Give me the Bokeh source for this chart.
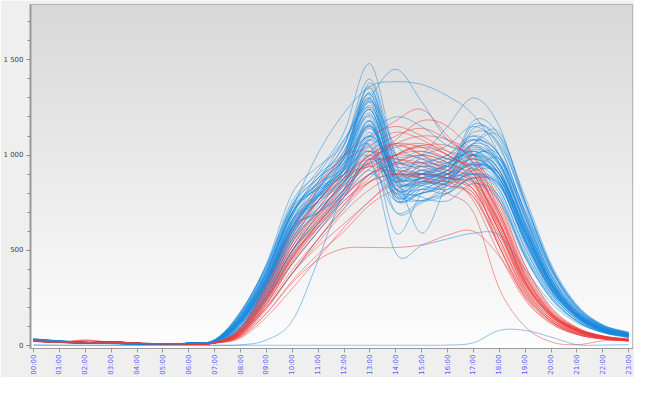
import math
import numpy as np
from bokeh.plotting import figure
from bokeh.models import Range1d, FixedTicker, SingleIntervalTicker, CustomJSTickFormatter
from bokeh.embed import file_html
from bokeh.resources import INLINE

hours = ["00:00", "01:00", "02:00", "03:00", "04:00", "05:00", "06:00", "07:00",
         "08:00", "09:00", "10:00", "11:00", "12:00", "13:00", "14:00", "15:00",
         "16:00", "17:00", "18:00", "19:00", "20:00", "21:00", "22:00", "23:00"]

# blue series (hourly values)
b01 = [32,22,16,12,10,10,12,28,150,380,700,860,980,1240,880,920,900,980,860,540,290,150,80,52]
b02 = [28,20,15,12,11,10,12,22,110,290,540,700,860,1120,820,860,850,930,800,490,270,140,75,45]
b03 = [35,25,18,14,12,11,13,30,170,420,760,900,1020,1320,900,880,920,1050,920,610,330,165,88,58]
b04 = [25,18,14,11,10,9,11,20,90,260,500,640,800,1000,780,820,800,880,760,460,250,128,70,40]
b05 = [30,21,16,13,11,10,12,25,140,350,650,790,930,1380,950,860,900,1000,900,590,320,165,88,55]
b06 = [33,24,17,13,11,10,12,27,160,400,720,820,900,1180,760,900,950,1100,1000,670,350,175,92,60]
b07 = [27,19,15,12,10,10,11,23,120,310,580,760,960,1150,830,800,880,1160,1050,690,370,185,98,64]
b08 = [31,22,16,12,11,10,12,26,135,340,620,700,820,1050,700,750,820,900,850,550,290,150,80,50]
b09 = [29,21,15,12,10,10,12,24,125,320,600,820,1020,1290,920,940,980,1080,950,630,340,168,88,55]
b10 = [34,24,18,14,12,11,13,29,175,430,800,940,1060,1350,980,960,900,950,820,510,275,140,75,45]
b11 = [26,19,14,11,10,9,11,21,100,280,520,680,820,1040,800,840,870,920,900,610,330,175,92,58]
b12 = [32,23,17,13,11,10,12,27,145,360,660,750,880,1180,850,780,760,850,780,470,255,130,70,45]
b13 = [30,22,16,12,10,10,12,25,135,350,640,810,960,1260,900,870,850,1000,980,680,370,185,98,63]
b14 = [28,20,15,12,10,10,11,23,115,300,560,740,900,1140,880,900,940,1120,1060,750,410,205,108,68]
b15 = [35,25,18,14,12,11,13,30,180,420,740,880,1000,1300,860,820,860,980,870,550,295,150,80,50]
b16 = [27,19,15,12,10,9,11,22,105,280,550,700,860,1020,820,880,900,960,880,580,315,158,84,54]
b17 = [31,22,16,13,11,10,12,26,150,370,690,850,940,1220,800,860,920,1030,950,640,345,172,90,58]
b18 = [29,21,15,12,10,10,12,24,120,320,600,720,850,1080,760,820,880,1000,1000,710,390,195,102,64]
b19 = [33,23,17,13,11,10,12,28,160,390,700,860,1050,1320,940,900,880,900,780,470,245,128,70,45]
b20 = [26,18,14,11,10,9,11,20,85,240,480,620,780,980,840,880,860,900,840,550,300,158,84,54]
b21 = [30,22,16,12,11,10,12,25,130,330,610,780,930,1160,890,950,1000,1100,960,630,335,168,88,55]
b22 = [32,23,17,13,11,10,12,27,150,370,680,800,980,1240,870,840,820,880,850,590,325,168,88,58]
b23 = [28,20,15,12,10,10,11,23,115,310,590,760,920,1150,900,920,900,1060,1120,760,420,210,108,68]
b24 = [34,24,18,14,12,11,13,29,165,400,700,830,980,1280,820,760,800,940,900,610,335,168,88,55]
b25 = [29,21,15,12,10,10,12,24,125,320,600,760,880,1100,780,840,900,980,880,570,305,152,80,50]
b26 = [31,22,16,13,11,10,12,26,140,350,640,790,940,1210,920,980,960,1020,920,590,315,158,84,54]
b27 = [27,19,14,11,10,9,11,22,110,300,570,720,850,1060,790,800,860,1140,1080,730,400,198,104,64]
b28 = [33,24,17,13,11,10,12,28,155,380,690,840,1000,1300,880,860,920,1000,860,530,285,145,75,50]
b29 = [30,21,16,12,10,10,12,25,130,330,620,790,950,1240,850,900,940,1080,1000,670,360,182,94,60]
b30 = [28,20,15,12,10,10,11,23,125,330,610,700,800,1000,820,760,840,900,820,510,275,140,75,45]
b31 = [36,26,18,14,12,11,13,32,175,420,740,920,1120,1480,1000,900,880,950,850,550,295,150,80,50]
b32 = [30,22,16,12,10,10,12,25,130,350,660,860,1080,1300,1450,1280,1080,1000,880,570,305,155,80,50]
b33 = [30,22,16,12,10,10,12,25,140,380,720,1010,1220,1360,1385,1370,1310,1210,1000,630,335,168,88,55]
b34 = [30,22,16,12,10,10,12,25,130,345,630,780,920,1150,900,1000,1150,1300,1150,750,410,205,100,60]
b35 = [30,22,16,12,10,10,12,25,125,330,600,760,900,980,485,525,560,590,580,400,225,120,70,45]
b36 = [30,22,16,12,10,10,12,25,130,340,620,790,920,1050,590,800,880,950,900,590,315,158,84,55]
b37 = [30,22,16,12,10,10,12,25,130,340,630,800,940,1100,900,590,850,1000,920,610,325,162,84,55]
b38 = [3,2,2,2,2,2,2,2,4,30,130,450,820,1100,1200,1150,1050,1000,900,610,325,162,84,55]
b39 = [3,2,2,2,2,2,2,2,2,2,2,2,2,2,2,2,3,15,80,80,45,5,3,5]
b40 = [30,22,16,12,10,10,12,25,150,390,700,880,1050,1400,1000,940,960,1020,900,590,315,158,84,55]
b41 = [28,20,15,12,10,10,11,23,130,340,650,820,990,1330,960,900,920,1060,980,650,350,178,94,60]
b42 = [32,23,17,13,11,10,12,27,145,360,660,830,1000,1360,900,850,900,1180,1100,750,410,198,100,60]
b43 = [28,20,15,12,10,10,11,20,80,200,380,560,720,900,800,850,880,950,880,590,320,162,84,55]
b44 = [30,22,16,12,10,10,12,22,95,250,430,600,780,980,860,900,950,1050,960,650,350,178,90,55]
b45 = [31,22,16,12,10,10,12,24,130,340,620,780,930,1180,860,880,920,1040,940,620,330,165,86,55]
b46 = [30,22,16,12,10,10,12,24,140,360,680,900,1080,1250,1000,1020,980,1000,900,560,300,150,80,50]
b47 = [27,19,15,12,10,9,11,22,100,270,500,650,780,920,760,800,840,920,980,700,400,200,104,66]
b48 = [32,23,17,13,11,10,12,27,155,380,700,830,900,1100,960,1000,1050,1150,1040,700,380,190,98,62]
b49 = [29,21,15,12,10,10,12,24,120,320,620,800,920,1020,880,900,880,860,760,480,260,132,72,46]
b50 = [31,22,16,12,11,10,12,26,145,360,660,780,880,1160,820,880,960,1060,1100,780,430,215,110,70]
b51 = [28,20,15,12,10,10,11,23,110,300,560,700,820,950,700,760,800,880,840,560,300,152,80,50]
b52 = [34,24,18,14,12,11,13,29,170,410,730,880,1000,1280,1050,980,940,1000,920,600,320,160,85,55]
b53 = [30,22,16,12,10,10,12,25,135,340,620,760,860,1080,940,960,1000,1080,1000,680,370,185,96,60]
b54 = [26,19,14,11,10,9,11,21,95,260,500,660,800,960,860,920,940,1020,960,640,350,176,92,58]
b55 = [33,23,17,13,11,10,12,28,160,390,720,850,980,1200,780,800,860,960,880,570,310,155,82,52]

# red series (hourly values)
r01 = [25,18,15,20,12,10,10,15,70,250,480,660,820,950,1000,980,920,850,620,330,160,80,45,30]
r02 = [22,16,25,15,11,10,10,14,60,220,440,620,780,900,960,1000,960,880,650,360,170,85,48,32]
r03 = [28,20,16,22,13,11,11,16,90,300,580,780,960,1050,1120,1080,1000,900,640,340,165,82,46,30]
r04 = [24,17,14,18,12,10,10,15,65,230,450,620,760,860,900,880,840,800,580,300,150,75,42,28]
r05 = [26,19,28,16,12,10,10,15,75,260,500,690,860,1000,1060,1040,980,920,700,380,180,90,50,32]
r06 = [23,17,14,19,11,10,10,14,55,200,380,520,640,760,880,900,880,820,560,290,140,70,40,27]
r07 = [27,19,15,21,13,11,11,16,85,290,540,720,900,1080,1180,1240,1100,950,660,340,160,80,45,30]
r08 = [25,18,15,17,12,10,10,15,80,280,540,760,900,980,960,920,860,780,520,270,130,65,38,25]
r09 = [24,18,30,18,12,10,10,15,65,235,460,640,810,980,1040,1060,1020,960,720,400,190,90,50,33]
r10 = [26,19,15,20,12,10,10,15,75,255,490,670,840,960,980,940,900,860,640,350,170,85,47,31]
r11 = [22,16,14,16,11,10,10,14,45,170,340,480,600,740,820,860,840,780,540,280,140,70,40,26]
r12 = [28,20,16,22,13,11,11,16,95,320,600,820,1000,1100,1150,1100,1020,920,650,330,160,80,45,30]
r13 = [25,18,15,18,12,10,10,15,70,245,470,640,790,900,920,900,880,840,600,320,155,78,44,29]
r14 = [25,18,15,18,12,10,10,14,50,170,330,450,510,515,515,530,580,600,470,260,130,65,40,28]
r15 = [24,17,14,19,12,10,10,14,60,220,430,600,760,880,1000,1050,1000,900,600,300,140,70,40,27]
r16 = [26,19,15,20,12,10,10,15,90,320,620,840,1000,1020,980,960,900,820,560,280,130,60,35,25]
r17 = [25,18,15,18,12,10,10,15,60,220,430,600,740,860,900,880,800,700,300,100,20,5,25,30]
r18 = [27,19,16,21,13,11,11,16,80,280,520,700,860,980,1060,1100,1080,1000,760,420,200,95,52,34]
r19 = [23,17,14,17,11,10,10,14,50,190,380,540,700,820,900,940,920,870,640,340,165,80,45,30]
r20 = [26,19,15,20,12,10,10,15,75,260,500,690,870,1020,1100,1140,1080,960,680,360,170,85,46,30]
r21 = [25,18,15,18,12,10,10,15,65,240,460,630,780,900,950,960,940,900,700,390,185,90,48,31]
r22 = [24,18,15,18,12,10,10,15,85,300,560,760,900,940,1000,1020,980,930,680,370,175,85,47,31]
r23 = [26,19,16,20,12,10,10,15,80,270,500,680,840,970,1050,1000,940,860,600,310,150,75,42,28]
r24 = [25,18,15,18,12,10,10,15,70,240,460,640,800,930,1000,1050,1050,980,740,420,200,95,50,33]
r25 = [27,19,15,20,12,10,10,15,60,210,400,560,720,860,960,1000,960,860,520,250,120,60,36,25]
r26 = [24,17,14,18,12,10,10,14,75,270,520,720,880,1000,1060,1000,900,760,480,240,115,58,34,24]
r27 = [26,19,15,20,12,10,10,15,55,200,380,560,740,900,1000,1040,1000,900,620,330,160,80,45,30]
r28 = [25,18,15,18,12,10,10,15,90,310,580,760,880,940,900,880,860,820,600,320,155,78,44,29]
r29 = [23,17,14,17,11,10,10,14,40,150,300,460,620,760,860,900,880,800,520,260,125,62,36,25]
r30 = [26,19,15,20,12,10,10,15,70,250,470,650,820,960,1080,1180,1150,1000,700,370,175,85,46,30]

blue_series = [b01, b02, b03, b04, b05, b06, b07, b08, b09, b10, b11, b12, b13, b14, b15,
               b16, b17, b18, b19, b20, b21, b22, b23, b24, b25, b26, b27, b28, b29, b30,
               b31, b32, b33, b34, b35, b36, b37, b38, b39, b40, b41, b42, b43, b44, b45,
               b46, b47, b48, b49, b50, b51, b52, b53, b54, b55]
red_series = [r01, r02, r03, r04, r05, r06, r07, r08, r09, r10, r11, r12, r13, r14, r15,
              r16, r17, r18, r19, r20, r21, r22, r23, r24, r25, r26, r27, r28, r29, r30]

BLUE = "#1c8be0"
RED = "#f03c3c"


def spline(vals, steps=10):
    """Catmull-Rom curve through the hourly points (drawing only)."""
    p = np.asarray(vals, dtype=float)
    P = np.concatenate([[2 * p[0] - p[1]], p, [2 * p[-1] - p[-2]]])
    xs, ys = [], []
    t = np.linspace(0, 1, steps, endpoint=False)
    for i in range(len(p) - 1):
        p0, p1, p2, p3 = P[i:i + 4]
        y = 0.5 * (2 * p1 + (-p0 + p2) * t + (2 * p0 - 5 * p1 + 4 * p2 - p3) * t ** 2
                   + (-p0 + 3 * p1 - 3 * p2 + p3) * t ** 3)
        xs.extend(i + t)
        ys.extend(y)
    xs.append(len(p) - 1)
    ys.append(p[-1])
    return list(xs), list(ys)


X0, X1 = -0.12, 23.15
Y0, Y1 = -15, 1790

p = figure(width=634, height=377, output_backend="svg", toolbar_location=None,
           x_range=Range1d(X0, X1), y_range=Range1d(Y0, Y1),
           min_border_left=28, min_border_right=2, min_border_top=4, min_border_bottom=20)
p.grid.visible = False
p.border_fill_color = "#efefef"
p.background_fill_color = "#ffffff"
p.outline_line_color = "#a9a9a9"
p.outline_line_width = 1

# vertical gradient background
N = 200
img = np.empty((N, 1), dtype=np.uint32)
view = img.view(dtype=np.uint8).reshape((N, 1, 4))
for i in range(N):
    f = i / (N - 1)
    c = int(round(253 - (253 - 216) * f))
    view[i, 0, 0] = c
    view[i, 0, 1] = c
    view[i, 0, 2] = c
    view[i, 0, 3] = 255
p.image_rgba(image=[img], x=X0, y=Y0, dw=X1 - X0, dh=Y1 - Y0, level="image")

# interleave red and blue days so that neither colour is always on top
xs, ys, cols = [], [], []
ri = 0
for k, s in enumerate(blue_series):
    if k % 2 == 0 and ri < len(red_series):
        a, b = spline(red_series[ri])
        xs.append(a); ys.append(b); cols.append(RED)
        ri += 1
    a, b = spline(s)
    xs.append(a); ys.append(b); cols.append(BLUE)
while ri < len(red_series):
    a, b = spline(red_series[ri])
    xs.append(a); ys.append(b); cols.append(RED)
    ri += 1

p.multi_line(xs=xs, ys=ys, line_color=cols, line_alpha=0.5, line_width=1)

xa = p.xaxis[0]
xa.ticker = FixedTicker(ticks=list(range(24)))
xa.major_label_overrides = {i: h for i, h in enumerate(hours)}
xa.major_label_orientation = math.pi / 2
xa.major_label_text_font = "DejaVu Sans"
xa.major_label_text_font_size = "7px"
xa.major_label_text_color = "#5c5cff"
xa.major_label_standoff = 2
xa.axis_line_color = "#9a9a9a"
xa.major_tick_line_color = "#9a9a9a"
xa.major_tick_in = 0
xa.major_tick_out = 4
xa.minor_tick_out = 0
xa.minor_tick_in = 0

ya = p.yaxis[0]
ya.ticker = SingleIntervalTicker(interval=500, num_minor_ticks=5)
ya.formatter = CustomJSTickFormatter(code="""
const t = Math.round(tick);
if (Math.abs(t) >= 1000) {
  const th = Math.floor(t / 1000);
  const r = String(t % 1000).padStart(3, '0');
  return th + ' ' + r;
}
return String(t);
""")
ya.major_label_text_font = "DejaVu Sans"
ya.major_label_text_font_size = "7px"
ya.major_label_text_color = "#444444"
ya.major_label_standoff = 3
ya.axis_line_color = "#9a9a9a"
ya.axis_line_width = 2
ya.major_tick_line_color = "#8a8a8a"
ya.minor_tick_line_color = "#8a8a8a"
ya.major_tick_in = 0
ya.major_tick_out = 4
ya.minor_tick_in = 0
ya.minor_tick_out = 3

open("out.html", "w").write(file_html(p, INLINE))
